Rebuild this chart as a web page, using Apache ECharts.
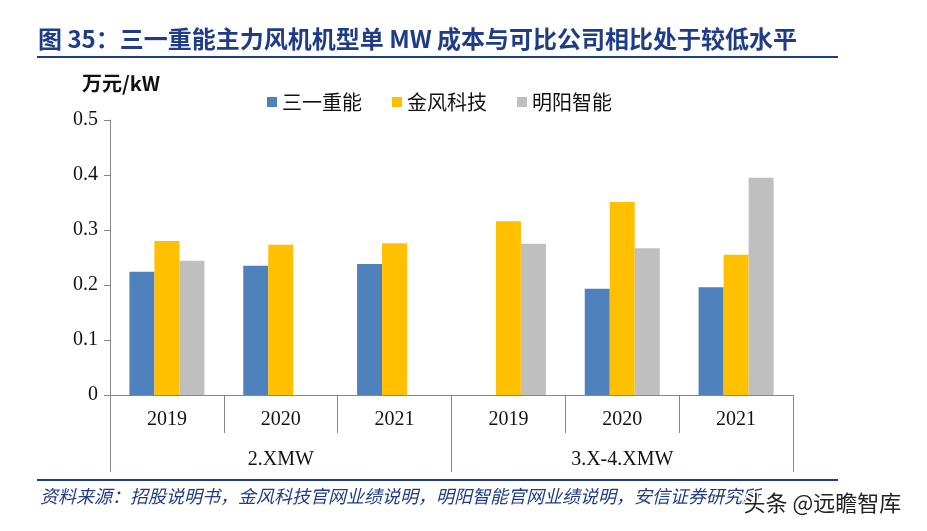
<!DOCTYPE html>
<html>
<head>
<meta charset="utf-8">
<script src="https://cdn.jsdelivr.net/npm/echarts@6/dist/echarts.min.js"></script>
<style>html,body{margin:0;padding:0;background:#fff;}#c{width:927px;height:531px;}</style>
</head>
<body>
<div id="c"></div>
<script>
const years = ['2019','2020','2021','2019','2020','2021'];
const groups = ['2.XMW','3.X-4.XMW'];
const seriesNames = ['三一重能','金风科技','明阳智能'];
const sany = [0.224, 0.235, 0.238, null, 0.193, 0.196];
const goldwind = [0.280, 0.273, 0.276, 0.316, 0.351, 0.255];
const mingyang = [0.244, null, null, 0.275, 0.267, 0.395];
const yTicks = [0, 0.1, 0.2, 0.3, 0.4, 0.5];
const colors = ['#4F81BD','#FFC000','#BFBFBF'];

const chart = echarts.init(document.getElementById('c'));
const blue = '#1F3C88';
const serif = '"Liberation Serif","Times New Roman",serif';
const cjk = '"Noto Sans CJK SC",sans-serif';
const axisGray = '#888888';

function bar(name, data, color){
  return {name, type:'bar', data, barWidth:25, barGap:'0%', itemStyle:{color}, xAxisIndex:0};
}

chart.setOption({
  animation:false,
  grid:{left:110, right:134, top:120, bottom:136},
  legend:{
    left:262, top:87, itemWidth:10, itemHeight:10, itemGap:30,
    icon:'rect',
    textStyle:{fontSize:20, color:'#111', fontFamily:cjk},
    data:seriesNames
  },
  xAxis:[
    {type:'category', data:years, position:'bottom',
     axisLine:{lineStyle:{color:axisGray, width:1}},
     axisTick:{show:true, length:38, interval:0, lineStyle:{color:axisGray}},
     axisLabel:{margin:15, fontSize:20, color:'#111', fontFamily:serif, interval:0}},
    {type:'category', data:groups, position:'bottom',
     axisLine:{show:false},
     axisTick:{show:true, length:77, interval:0, lineStyle:{color:axisGray}},
     axisLabel:{margin:55, fontSize:20, color:'#111', fontFamily:serif, interval:0}}
  ],
  yAxis:{
    type:'value', min:0, max:0.5, interval:0.1,
    axisLine:{show:true, lineStyle:{color:axisGray}},
    axisTick:{show:true, length:6, lineStyle:{color:axisGray}},
    splitLine:{show:false},
    axisLabel:{fontSize:20, color:'#111', fontFamily:serif, margin:12,
      formatter:v=>{ const t=yTicks.find(x=>Math.abs(x-v)<1e-9); return t===0?'0':(t!==undefined?t.toFixed(1):v.toFixed(1)); }}
  },
  series:[
    bar(seriesNames[0], sany, colors[0]),
    bar(seriesNames[1], goldwind, colors[1]),
    bar(seriesNames[2], mingyang, colors[2])
  ],
  graphic:[
    {type:'text', left:38, top:27, style:{text:'图 35：三一重能主力风机机型单 MW 成本与可比公司相比处于较低水平', fill:blue, font:'bold 24px '+cjk}},
    {type:'line', shape:{x1:37,y1:57,x2:838,y2:57}, style:{stroke:blue, lineWidth:2}},
    {type:'text', left:82, top:73, style:{text:'万元/kW', fill:'#111', font:'bold 20px '+cjk}},
    {type:'line', shape:{x1:37,y1:480,x2:838,y2:480}, style:{stroke:blue, lineWidth:2}},
    {type:'text', left:40, top:487, style:{text:'资料来源：招股说明书，金风科技官网业绩说明，明阳智能官网业绩说明，安信证券研究所', fill:blue, font:'italic 18px '+cjk}},
    {type:'text', left:742, top:490, z:100, style:{text:'头条 @远瞻智库', fill:'#222', font:'22px '+cjk, stroke:'#fff', lineWidth:3}}
  ]
});
</script>
</body>
</html>
